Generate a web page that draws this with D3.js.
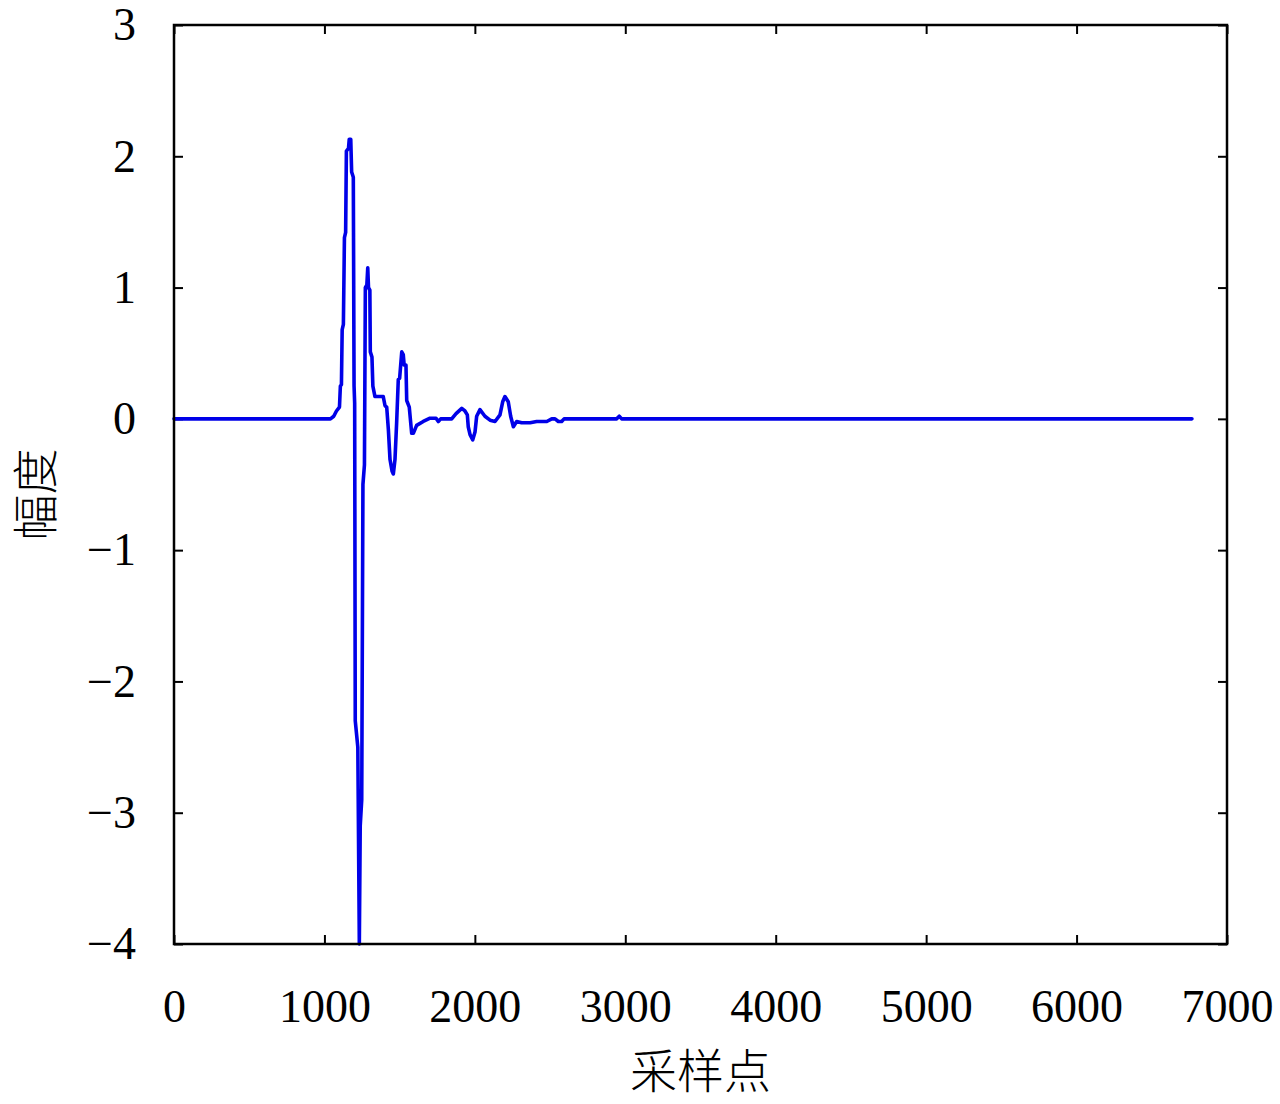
<!DOCTYPE html>
<html>
<head>
<meta charset="utf-8">
<script src="https://cdn.jsdelivr.net/npm/d3@7"></script>
<style>
  body { margin: 0; background: #fff; }
  svg { display: block; }
  .tick text { font-family: "Liberation Serif", serif; font-size: 46px; fill: #000; }
</style>
</head>
<body>
<div id="chart"></div>
<script>
// sample index / amplitude
const sampleIdx = [0, 1040, 1062, 1080, 1100, 1106, 1113, 1118, 1126, 1133, 1141, 1146, 1160, 1165, 1175, 1181, 1192,
  1197, 1201, 1205, 1222, 1232, 1238, 1248, 1256, 1266, 1272, 1282, 1288, 1293, 1302, 1305, 1316, 1322, 1336,
  1391, 1403, 1414, 1425, 1436, 1450, 1458, 1469, 1480, 1491, 1500, 1514, 1524, 1530, 1542, 1547, 1564, 1580,
  1591, 1613, 1657, 1702, 1742, 1757, 1773, 1846, 1875, 1913, 1934, 1950, 1956, 1968, 1986, 2001, 2012, 2034,
  2067, 2101, 2134, 2167, 2185, 2200, 2222, 2238, 2256, 2278, 2311, 2367, 2411, 2478, 2511, 2533, 2555, 2577,
  2593, 2943, 2960, 2976, 6767]
const amplitude = [0, 0, 0.02, 0.06, 0.09, 0.25, 0.26, 0.68, 0.72, 1.38, 1.42, 2.04, 2.06, 2.13, 2.13, 1.88, 1.84,
  0.25, 0.12, -2.3, -2.5, -4.0, -3.1, -2.9, -0.5, -0.35, 1.0, 1.02, 1.15, 1.0, 0.98, 0.51, 0.47, 0.25, 0.17,
  0.17, 0.1, 0.09, -0.08, -0.31, -0.4, -0.42, -0.31, -0.03, 0.3, 0.31, 0.51, 0.49, 0.41, 0.41, 0.14, 0.09, -0.11,
  -0.11, -0.05, -0.02, 0.005, 0.005, -0.02, 0, 0, 0.04, 0.08, 0.06, 0.03, -0.06, -0.12, -0.16, -0.1, 0.02, 0.07,
  0.02, -0.01, -0.02, 0.03, 0.13, 0.17, 0.13, 0.02, -0.06, -0.02, -0.03, -0.03, -0.02, -0.02, 0, 0, -0.02, -0.02,
  0, 0, 0.02, 0, 0]

const xTicks = [0, 1000, 2000, 3000, 4000, 5000, 6000, 7000]
const yTicks = [-4, -3, -2, -1, 0, 1, 2, 3]

const xLabel = `采样点`
const yLabel = `幅度`

// layout
const width = 1280, height = 1104
const margin = { top: 25, right: 53, bottom: 160, left: 174 }
const innerW = width - margin.left - margin.right
const innerH = height - margin.top - margin.bottom

const svg = d3.select(`#chart`).append(`svg`)
  .attr(`width`, width)
  .attr(`height`, height)

const g = svg.append(`g`).attr(`transform`, `translate(${margin.left},${margin.top})`)

const x = d3.scaleLinear().domain([0, 7000]).range([0, innerW])
const y = d3.scaleLinear().domain([-4, 3]).range([innerH, 0])

// axes, ticks pointing inward on all four sides
const tickLen = 9
g.append(`g`).attr(`transform`, `translate(0,${innerH})`)
  .call(d3.axisBottom(x).tickValues(xTicks).tickFormat(d3.format(`d`)).tickSize(-tickLen).tickPadding(45))
g.append(`g`)
  .call(d3.axisTop(x).tickValues(xTicks).tickFormat(``).tickSize(-tickLen))
g.append(`g`)
  .call(d3.axisLeft(y).tickValues(yTicks).tickFormat(d3.format(`d`)).tickSize(-tickLen).tickPadding(38))
g.append(`g`).attr(`transform`, `translate(${innerW},0)`)
  .call(d3.axisRight(y).tickValues(yTicks).tickFormat(``).tickSize(-tickLen))

g.selectAll(`.domain`).remove()
g.selectAll(`.tick line`).attr(`stroke`, `#000`).attr(`stroke-width`, 2)

// signal
const points = sampleIdx.map((d, i) => [d, amplitude[i]])
g.append(`path`)
  .datum(points)
  .attr(`d`, d3.line().x(d => x(d[0])).y(d => y(d[1])))
  .attr(`fill`, `none`)
  .attr(`stroke`, `#0000e8`)
  .attr(`stroke-width`, 3.6)
  .attr(`stroke-linejoin`, `round`)
  .attr(`stroke-linecap`, `round`)

// frame
g.append(`rect`)
  .attr(`width`, innerW).attr(`height`, innerH)
  .attr(`fill`, `none`).attr(`stroke`, `#000`).attr(`stroke-width`, 2.5)

// axis titles
svg.append(`text`)
  .attr(`x`, margin.left + innerW / 2).attr(`y`, 1088)
  .attr(`text-anchor`, `middle`)
  .style(`font-family`, `"Noto Sans CJK SC"`).style(`font-size`, `47px`).style(`font-weight`, 300)
  .text(xLabel)

svg.append(`text`)
  .attr(`transform`, `translate(52,${margin.top + innerH / 2 + 10}) rotate(-90)`)
  .attr(`text-anchor`, `middle`)
  .style(`font-family`, `"Noto Sans CJK SC"`).style(`font-size`, `46px`).style(`font-weight`, 300)
  .text(yLabel)
</script>
</body>
</html>
